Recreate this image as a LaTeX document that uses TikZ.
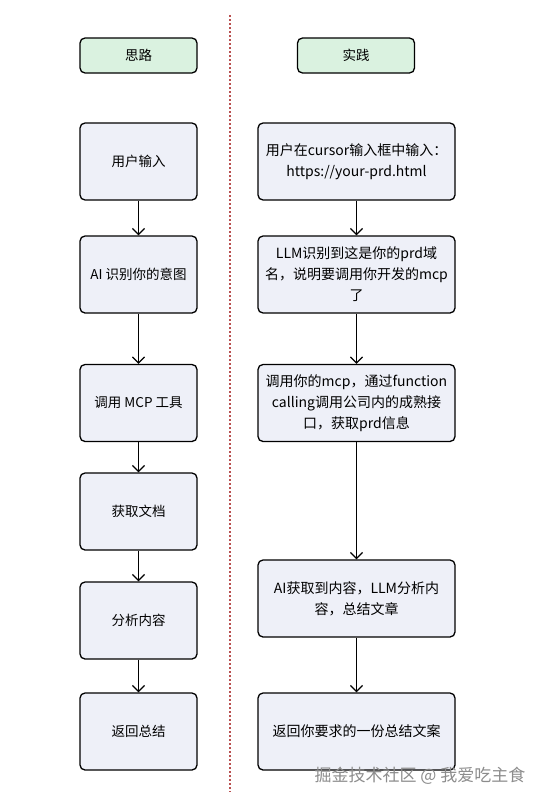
\documentclass[tikz,border=0pt]{standalone}
\usepackage{fontspec}
\setmainfont{Noto Sans CJK SC}
\usetikzlibrary{arrows.meta}
\definecolor{headfill}{RGB}{218,242,224}
\definecolor{stepfill}{RGB}{238,240,248}
\definecolor{sepred}{RGB}{185,80,80}

\begin{document}
\begin{tikzpicture}[x=1pt, y=-1pt,
                    headbox/.style={rectangle, rounded corners=5pt, draw=black, line width=1.3pt, fill=headfill, minimum width=117pt, minimum height=35pt, font=\fontsize{13.5}{16}\selectfont},
                    stepbox/.style={rectangle, rounded corners=5pt, draw=black, line width=1.3pt, fill=stepfill, minimum width=117pt, minimum height=77pt, font=\fontsize{13.5}{21}\selectfont},
                    widebox/.style={stepbox, minimum width=197pt, align=center, font=\fontsize{14}{21}\selectfont},
                    flow/.style={-{Straight Barb[length=6pt, width=12pt]}, line width=1.3pt, black}]

            \useasboundingbox (0,0) rectangle (545,803);

            \draw[sepred, line width=1.1pt, dash pattern=on 2pt off 2pt] (230,15) -- (230,792);

            \node[headbox] (s0) at (138.5,55.5) {思路};
            \node[headbox] (p0) at (356,55.5)   {实践};

            \node[stepbox] (s1) at (138.5,161.5) {用户输入};
            \node[stepbox] (s2) at (138.5,274.5) {AI 识别你的意图};
            \node[stepbox] (s3) at (138.5,403)   {调用 MCP 工具};
            \node[stepbox] (s4) at (138.5,511.5) {获取文档};
            \node[stepbox] (s5) at (138.5,620.5) {分析内容};
            \node[stepbox] (s6) at (138.5,731.5) {返回总结};

            \draw[flow] (s1) -- (s2);
            \draw[flow] (s2) -- (s3);
            \draw[flow] (s3) -- (s4);
            \draw[flow] (s4) -- (s5);
            \draw[flow] (s5) -- (s6);

            \node[widebox] (p1) at (356.5,161.5) {用户在cursor输入框中输入：\\https://your-prd.html};
            \node[widebox] (p2) at (356.5,274.5) {LLM识别到这是你的prd域\\名，说明要调用你开发的mcp\\了};
            \node[widebox] (p3) at (356.5,403)   {调用你的mcp，通过function\\calling调用公司内的成熟接\\口，获取prd信息};
            \node[widebox] (p4) at (356.5,598.5) {AI获取到内容，LLM分析内\\容，总结文章};
            \node[widebox] (p5) at (356.5,731.5) {返回你要求的一份总结文案};

            \draw[flow] (p1) -- (p2);
            \draw[flow] (p2) -- (p3);
            \draw[flow] (p3) -- (p4);
            \draw[flow] (p4) -- (p5);

            \node[text=black!45, font=\fontsize{17}{19}\selectfont] (mark) at (420,776) {掘金技术社区 @ 我爱吃主食};
        \end{tikzpicture}
\end{document}
